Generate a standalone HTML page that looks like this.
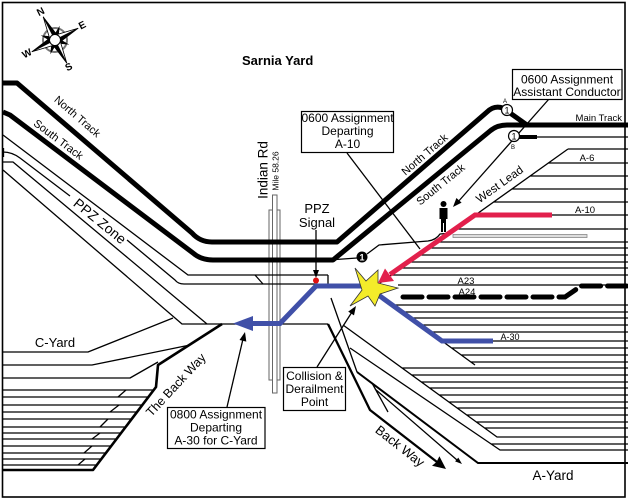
<!DOCTYPE html>
<html><head><meta charset="utf-8"><style>
html,body{margin:0;padding:0;background:#fff;}
svg{display:block;}
text{font-family:"Liberation Sans",Arial,sans-serif;fill:#000;}
</style></head><body>
<svg width="628" height="499" viewBox="0 0 628 499" xmlns="http://www.w3.org/2000/svg">
<rect x="0" y="0" width="628" height="499" fill="#fff"/>
<rect x="2.5" y="2.5" width="622.5" height="494.5" fill="none" stroke="#000" stroke-width="1.6"/>

<!-- Compass -->
<g transform="translate(55,40) rotate(-27)">
  <circle r="12" fill="none" stroke="#777" stroke-width="2"/>
  <g fill="#000">
    <polygon points="0,-15 2.5,-4 0,-2 -2.5,-4" transform="rotate(45)"/>
    <polygon points="0,-15 2.5,-4 0,-2 -2.5,-4" transform="rotate(135)"/>
    <polygon points="0,-15 2.5,-4 0,-2 -2.5,-4" transform="rotate(225)"/>
    <polygon points="0,-15 2.5,-4 0,-2 -2.5,-4" transform="rotate(315)"/>
  </g>
  <g stroke="#000" stroke-width="0.8">
    <polygon points="0,-26 4,-4 0,0" fill="#000"/>
    <polygon points="0,-26 -4,-4 0,0" fill="#fff"/>
    <polygon points="0,-26 4,-4 0,0" fill="#000" transform="rotate(90)"/>
    <polygon points="0,-26 -4,-4 0,0" fill="#fff" transform="rotate(90)"/>
    <polygon points="0,-26 4,-4 0,0" fill="#000" transform="rotate(180)"/>
    <polygon points="0,-26 -4,-4 0,0" fill="#fff" transform="rotate(180)"/>
    <polygon points="0,-26 4,-4 0,0" fill="#000" transform="rotate(270)"/>
    <polygon points="0,-26 -4,-4 0,0" fill="#fff" transform="rotate(270)"/>
  </g>
  <circle r="5.5" fill="#fff" stroke="#000" stroke-width="1"/>
  <g style="font-family:'Liberation Serif',serif;font-weight:bold;font-size:10px" text-anchor="middle" dominant-baseline="central">
    <text x="0" y="-31">N</text>
    <text x="31" y="0">E</text>
    <text x="0" y="31">S</text>
    <text x="-31" y="0">W</text>
  </g>
</g>

<text x="242" y="65" style="font-weight:bold;font-size:13px">Sarnia Yard</text>

<!-- Road -->
<rect x="269" y="210" width="11" height="170" fill="#fff" stroke="#666" stroke-width="1"/>
<rect x="272.5" y="195" width="4.5" height="198" fill="#fff" stroke="#666" stroke-width="1"/>

<!-- thin track lines -->
<g fill="none" stroke="#000" stroke-width="1.3" stroke-linejoin="round">
  <!-- left lines -->
  <path d="M3,135 L188,275 H328 M328,275 V285"/>
  <path d="M3.5,148 V157 M3,152 Q12,152 20,158 L70,196 M127,240 L175,280 Q178,284 184,284 H318"/>
  <path d="M3,162 H13 L207,324"/>
  <path d="M3,170 L182,324 H328"/>
  <path d="M255,275 L263,284"/>
  <!-- C-yard -->
  <path d="M3,352 H88 L173,318"/>
  <path d="M3,365 H92 L190,345"/>
  <path d="M3,378 H130 L158,362"/>
  <path d="M3,390 H153 M3,397 H148 M3,405 H142 M3,412 H137 M3,419 H131 M3,427 H125 M3,433 H121 M3,439 H116 M3,446 H111 M3,453 H106 M3,459 H101 M3,465 H97"/>
  <path d="M118,397 L126,390 M110,412 L119,405 M100,427 L108,419 M92,439 L100,433 M84,453 L92,446 M78,465 L85,459"/>
  <!-- south to black circle -->
  <path d="M336,259.5 L357,258"/>
  <path d="M367,254 L379,245 L428,241 Q436,240 440,234 L452,233"/>
  <!-- right yard -->
  <path d="M537,137 H628 M568,149 H628 M568,149 L380,283
    M548,163 H628 M530,176 H628 M512,189 H628 M494,202 H628 M552,215 H628
    M456,229 H628 M438,242 H628 M429,248 H628 M419,255 H628 M410,262 H628 M401,268 H628 M391,275 H628
    M398,285 H628
    M392,305 H628 M402,312 H628 M410,318 H628 M420,325 H628 M430,332 H628 M493,341 H628
    M452,348 H628 M461,355 H628 M471,362 H628 M442,341 L475,365
    M402,368 H628 M412,375 H628 M421,382 H628 M430,388 H628 M439,395 H628 M449,402 H628
    M457,408 H628 M467,415 H628 M476,422 H628 M485,428 H628
    M343,325 L497,437 H628 M491,444 H628 M350,348 L500,450 H628
    M331,298 L357,372 M372,383 L388,412 M375,389 L457,460"/>
  <!-- connectors -->
  <path d="M549,99 L457,203"/>
  <path d="M347,153 L420,249"/>
  <path d="M316,230 L316,272"/>
  <path d="M317,367 L352,312"/>
  <path d="M227,407 L243,339"/>
</g>
<rect x="453" y="234.5" width="134" height="3" fill="#ddd" stroke="#888" stroke-width="0.8"/>

<!-- medium lines -->
<path d="M357,372 L478,463 H628" fill="none" stroke="#000" stroke-width="2"/>
<path d="M328,324 L370,410 L437,462" fill="none" stroke="#000" stroke-width="2.3" stroke-linejoin="round"/>
<path d="M222,324 L158,365 L156,387 L93,470 H3" fill="none" stroke="#000" stroke-width="2.6" stroke-linejoin="round"/>

<!-- thick tracks -->
<g fill="none" stroke="#000" stroke-width="5" stroke-linejoin="round">
  <path d="M3,83 L17,83 L192,233 Q200,242 212,242 L337,242 L487,112 Q494,105 503,108 L527,125"/>
  <path d="M3,112 L10,115 L193,253 Q201,260 213,260 L333,260 L490,131 Q497,125 507,125 L628,125"/>
  <path d="M519,137 H537" stroke-width="4"/>
</g>
<path d="M403,297 H565 L581,286 H628" fill="none" stroke="#000" stroke-width="5" stroke-dasharray="19 7" stroke-linecap="round"/>

<!-- switch circles -->
<circle cx="507" cy="110" r="5.5" fill="#fff" stroke="#000" stroke-width="1.2"/>
<text x="507" y="113.5" text-anchor="middle" style="font-size:9px">1</text>
<text x="505" y="103" text-anchor="middle" style="font-size:6px">A</text>
<circle cx="514" cy="136" r="5.5" fill="#fff" stroke="#000" stroke-width="1.2"/>
<text x="514" y="139.5" text-anchor="middle" style="font-size:9px">1</text>
<text x="513" y="149" text-anchor="middle" style="font-size:6px">B</text>
<circle cx="362" cy="257" r="5.5" fill="#000"/>
<text x="362" y="260.5" text-anchor="middle" style="font-size:9px;font-weight:bold;fill:#fff">1</text>

<!-- person -->
<circle cx="443.5" cy="204" r="3" fill="#000"/>
<path d="M439.5,208 h8 v11 h-1.5 v13 h-2 v-9 h-1 v9 h-2 v-13 h-1.5 z" fill="#000"/>

<!-- arrowheads -->
<polygon points="453,207 461.6,202.6 456.4,198" fill="#000"/>
<polygon points="316,278 313,270 319,270" fill="#000"/>
<polygon points="356,306 354,315.4 348.2,311.6" fill="#000"/>
<polygon points="245,332 246.3,341.6 239.5,340" fill="#000"/>
<polygon points="446,469 432,465.7 436.5,462 439.4,456.3" fill="#000"/>
<polygon points="462,464 455.1,461.4 458.3,457.6" fill="#000"/>

<!-- signal dot -->
<circle cx="316" cy="280.5" r="3" fill="#e01010"/>

<!-- blue route -->
<path d="M250,323.5 L280,323.5 L316,286 L366,286 L442,341 L493,341" fill="none" stroke="#4050a8" stroke-width="5" stroke-linejoin="miter"/>
<polygon points="233,323.5 253,316 253,331" fill="#4050a8"/>

<!-- star -->
<polygon points="355,268 366,281 378,270 378,283 398,288 380,294 375,306 368,296 350,306 362,290" fill="#f4ec2a" stroke="#333" stroke-width="0.8" stroke-linejoin="miter"/>

<!-- red route -->
<path d="M552,215 L475,215 L390,274.5" fill="none" stroke="#e2204c" stroke-width="5" stroke-linejoin="miter"/>
<polygon points="378,283 394,281 385,268.5" fill="#e2204c"/>

<!-- boxes -->
<rect x="512.5" y="69.5" width="109.5" height="30" fill="#fff" stroke="#000" stroke-width="1.2"/>
<text x="567" y="83.5" text-anchor="middle" style="font-size:12px">0600 Assignment</text>
<text x="567" y="96" text-anchor="middle" style="font-size:12px">Assistant Conductor</text>

<rect x="301.5" y="111.5" width="92" height="41" fill="#fff" stroke="#000" stroke-width="1.2"/>
<text x="347.5" y="122" text-anchor="middle" style="font-size:12px">0600 Assignment</text>
<text x="347.5" y="135" text-anchor="middle" style="font-size:12px">Departing</text>
<text x="347.5" y="148" text-anchor="middle" style="font-size:12px">A-10</text>

<rect x="283.5" y="367.5" width="62" height="43" fill="#fff" stroke="#000" stroke-width="1.2"/>
<text x="314.5" y="380" text-anchor="middle" style="font-size:12px">Collision &amp;</text>
<text x="314.5" y="393" text-anchor="middle" style="font-size:12px">Derailment</text>
<text x="314.5" y="406" text-anchor="middle" style="font-size:12px">Point</text>

<rect x="167.5" y="407.5" width="97.5" height="41" fill="#fff" stroke="#000" stroke-width="1.2"/>
<text x="216" y="418.5" text-anchor="middle" style="font-size:12px">0800 Assignment</text>
<text x="216" y="431.5" text-anchor="middle" style="font-size:12px">Departing</text>
<text x="216" y="444.5" text-anchor="middle" style="font-size:12px">A-30 for C-Yard</text>

<!-- labels -->
<g text-anchor="middle" dominant-baseline="central">
  <text transform="translate(77,117) rotate(40.7)" style="font-size:11px">North Track</text>
  <text transform="translate(58,140) rotate(37)" style="font-size:11px">South Track</text>
  <text transform="translate(100,221) rotate(39)" style="font-size:14px">PPZ Zone</text>
  <text transform="translate(425,155) rotate(-40.8)" style="font-size:11px">North Track</text>
  <text transform="translate(441,185) rotate(-39)" style="font-size:11px">South Track</text>
  <text transform="translate(500,185) rotate(-35.5)" style="font-size:11.5px">West Lead</text>
  <text transform="translate(400,446) rotate(38)" style="font-size:13px">Back Way</text>
  <text transform="translate(176,385) rotate(-47)" style="font-size:12.5px">The Back Way</text>
  <text transform="translate(263,170) rotate(-90)" style="font-size:13.5px">Indian Rd</text>
  <text transform="translate(275.5,171) rotate(-90)" style="font-size:8.5px">Mile 58.26</text>
</g>
<text x="317" y="213" text-anchor="middle" style="font-size:13px">PPZ</text>
<text x="317" y="227" text-anchor="middle" style="font-size:13px">Signal</text>
<text x="622" y="121" text-anchor="end" style="font-size:9.5px">Main Track</text>
<text x="587" y="161" text-anchor="middle" style="font-size:9.5px">A-6</text>
<text x="585" y="213" text-anchor="middle" style="font-size:9.5px">A-10</text>
<text x="510" y="340" text-anchor="middle" style="font-size:9px">A-30</text>
<text x="466" y="284" text-anchor="middle" style="font-size:9.5px">A23</text>
<text x="467" y="295" text-anchor="middle" style="font-size:9.5px">A24</text>
<text x="55" y="347" text-anchor="middle" style="font-size:13px">C-Yard</text>
<text x="553" y="480" text-anchor="middle" style="font-size:13.5px">A-Yard</text>
</svg>
</body></html>
